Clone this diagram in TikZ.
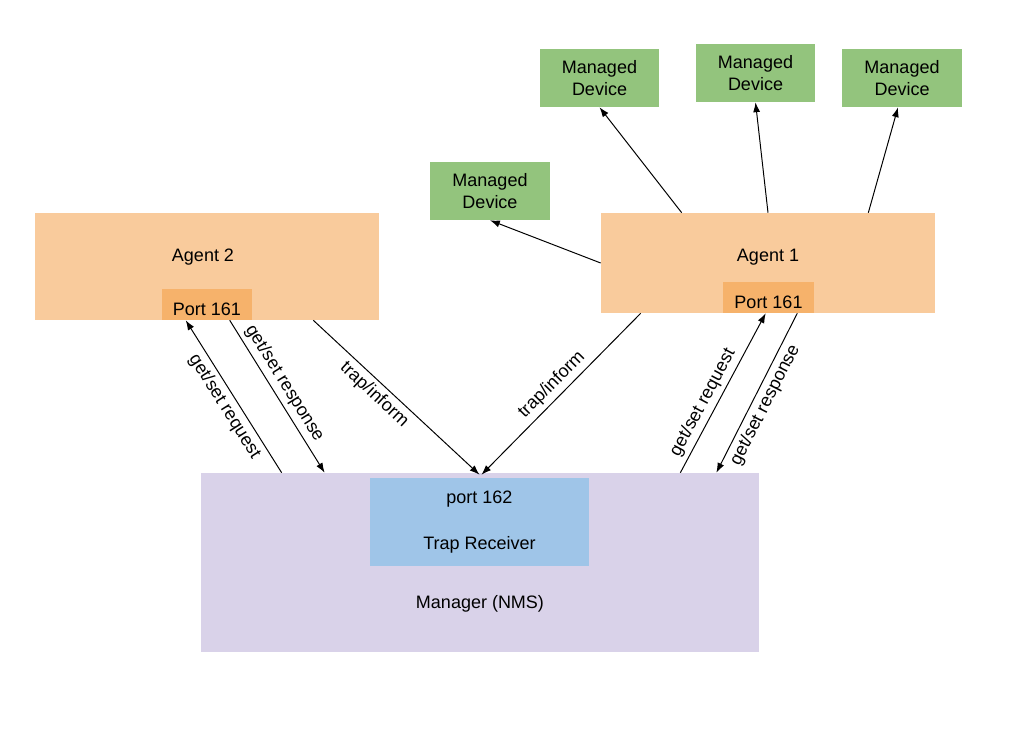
\documentclass[tikz,border=0pt]{standalone}
\usepackage{fontspec}
\setmainfont{Liberation Sans}
\usetikzlibrary{arrows.meta}
\definecolor{agentfill}{HTML}{F9CB9C}
\definecolor{portfill}{HTML}{F6B26B}
\definecolor{devfill}{HTML}{93C47D}
\definecolor{nmsfill}{HTML}{D9D2E9}
\definecolor{trapfill}{HTML}{9FC5E8}
\begin{document}
\begin{tikzpicture}[x={(0.025cm,0)},y={(0,-0.025cm)},font=\fontsize{12.8}{15.6}\selectfont,
  box/.style={inner sep=0pt},
  agentbox/.style={box,fill=agentfill},
  portbox/.style={box,fill=portfill,minimum width=2.25cm,text height=18.8pt,text depth=3.2pt},
  devbox/.style={box,fill=devfill,minimum width=2.975cm,minimum height=1.45cm,align=center},
  msg/.style={-{Latex[length=7pt,width=5pt]},line width=0.7pt},
  msglabel/.style={sloped,inner sep=3pt}]
\useasboundingbox (0,0) rectangle (1010,752);
\node[agentbox,minimum width=8.6cm,minimum height=2.675cm] (agentii) at (207,266.5) {};
\node (agentiitext) at (203,257) {Agent 2};
\node[portbox] (portii) at (207,304.5) {Port 161};
\node[agentbox,minimum width=8.35cm,minimum height=2.5cm] (agenti) at (768,263) {};
\node (agentitext) at (768,257) {Agent 1};
\node[portbox,minimum width=2.275cm] (porti) at (768.5,297.5) {Port 161};
\node[devbox] (deva) at (490,191) {Managed\\Device};
\node[devbox] (devb) at (599.5,78) {Managed\\Device};
\node[devbox] (devc) at (755.5,73) {Managed\\Device};
\node[devbox] (devd) at (902,78) {Managed\\Device};
\node[box,fill=nmsfill,minimum width=13.95cm,minimum height=4.475cm] (manager) at (480,562.5) {};
\node (managertext) at (480,604) {Manager (NMS)};
\node[box,fill=trapfill,minimum width=5.475cm,minimum height=2.2cm,align=center,
  font=\fontsize{12.8}{32.7}\selectfont] (trap) at (479.5,522) {port 162\\Trap Receiver};
\draw[msg] (agenti.west)--(deva.south);
\draw[msg] ([shift={(81,0)}]agenti.north west)--(devb.south);
\draw[msg] (agenti.north)--(devc.south);
\draw[msg] ([shift={(-67,0)}]agenti.north east)--([shift={(-4,0)}]devd.south);
\draw[msg] ([shift={(81,0)}]manager.north west)--node[msglabel,below,pos=0.48] (reqiilabel) {get/set request} ([shift={(24,0)}]portii.south west);
\draw[msg] ([shift={(68,0)}]portii.south west)--node[msglabel,above,pos=0.46] (resiilabel) {get/set response} ([shift={(124,0)}]manager.north west);
\draw[msg] ([shift={(-66,0)}]agentii.south east)--node[msglabel,below,pos=0.42] (trapiilabel) {trap/inform} ([shift={(0,-3)}]trap.north);
\draw[msg] ([shift={(40,0)}]agenti.south west)--node[msglabel,above] (trapilabel) {trap/inform} ([shift={(2,-3)}]trap.north);
\draw[msg] ([shift={(-79,0)}]manager.north east)--node[msglabel,above,pos=0.4] (reqilabel) {get/set request} ([shift={(43,0)}]porti.south west);
\draw[msg] ([shift={(-17,0)}]porti.south east)--node[msglabel,below,pos=0.54] (resilabel) {get/set response} ([shift={(-43,0)}]manager.north east);
\end{tikzpicture}
\end{document}
